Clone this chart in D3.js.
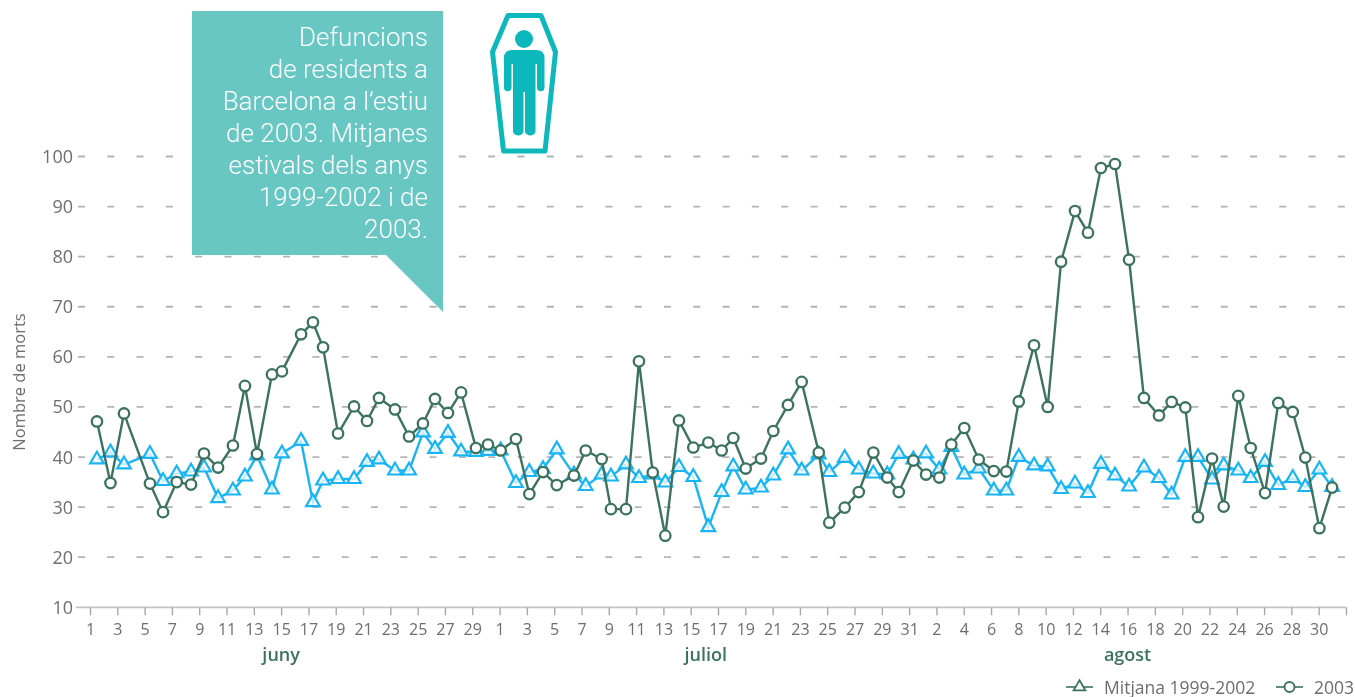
<!DOCTYPE html>
<html><head><meta charset="utf-8">
<script src="https://cdn.jsdelivr.net/npm/d3@7"></script>
<style>
html,body{margin:0;padding:0;background:#fff}
svg{display:block}
text{font-family:"Open Sans",sans-serif}
</style></head><body>
<svg id="c" width="1355" height="697"></svg>
<script>
const dayPos=[0.51,1.50,2.49,4.39,5.35,6.35,7.40,8.35,9.38,10.47,11.35,12.23,13.33,14.06,15.46,16.33,17.07,18.17,19.34,20.29,21.17,22.34,23.37,24.39,25.27,26.22,27.18,28.27,29.15,30.08,
31.20,32.18,33.18,34.19,35.45,36.31,37.48,38.16,39.26,40.21,41.22,42.14,43.14,44.19,45.29,46.27,47.12,48.03,49.15,50.05,51.13,52.13,53.38,54.15,55.28,56.31,57.38,58.40,59.24,
60.31,61.24,62.21,63.09,64.04,65.10,66.20,67.12,68.03,69.15,70.15,
71.13,72.15,73.10,74.05,75.08,76.11,
77.20,78.30,79.23,80.23,81.16,82.19,83.04,84.11,85.02,86.07,87.04,88.10,89.02,90.05,90.98];
const deaths2003=[47.1,34.8,48.7,34.7,29,35,34.5,40.7,37.9,42.3,54.2,40.6,56.5,57.1,64.5,66.9,61.9,44.7,50.1,47.2,51.8,49.5,44.1,46.7,51.6,48.8,52.9,41.8,42.5,41.3,
43.6,32.6,37,34.4,36.3,41.3,39.6,29.6,29.6,59.1,36.9,24.3,47.3,41.9,42.9,41.3,43.8,37.7,39.7,45.2,50.4,55,40.9,26.9,29.9,33,40.9,35.9,33,
39.3,36.5,35.9,42.5,45.8,39.5,37.2,37.1,51.1,62.3,50,
79,89.1,84.8,97.7,98.5,79.4,
51.8,48.3,51,49.9,28,39.7,30.1,52.2,41.8,32.8,50.8,49,39.9,25.8,33.9];
const mean9902=[39.5,40.9,38.5,40.6,35.2,36.7,37.1,37.9,31.8,33.3,36.1,40.3,33.5,40.7,43.2,31,35.3,35.6,35.6,39,39.5,37.3,37.3,44.9,41.6,44.8,41.1,41,41.2,41.3,
34.8,37,37.6,41.5,36.5,34.2,36.5,36.1,38.5,35.8,36.5,34.9,38,36,26,33,38.1,33.5,33.9,36.3,41.5,37.3,40.5,37,39.8,37.5,36.7,36.5,40.6,
39.5,40.7,37.5,42,36.5,37.7,33.3,33.3,40,38.3,38.1,
33.6,34.7,32.8,38.6,36.3,34.1,
37.9,35.8,32.5,40,40,35.5,38.3,37.3,35.8,39,34.4,35.8,34,37.5,34];
const yTicks=[10,20,30,40,50,60,70,80,90,100];
const dayLabels=[1,3,5,7,9,11,13,15,17,19,21,23,25,27,29,1,3,5,7,9,11,13,15,17,19,21,23,25,27,29,31,2,4,6,8,10,12,14,16,18,20,22,24,26,28,30];
const months=["juny","juliol","agost"];
const monthCentres=[14.0,45.1,76.0];
const calloutLines=["Defuncions","de residents a","Barcelona a l’estiu","de 2003. Mitjanes","estivals dels anys","1999-2002 i de","2003."];
const legendLabels=["Mitjana 1999-2002","2003"];

const DARK="#3c7260",BLUE="#18b4f4",GREY="#6e6e6e";
const svg=d3.select("#c");
const x=d3.scaleLinear().domain([0,92]).range([90,1346]);
const y=d3.scaleLinear().domain([10,100]).range([607.3,156.5]);

const chart=svg.append("g").style("filter","blur(0.55px)");

chart.append("g").selectAll("line").data(yTicks.slice(1)).join("line")
 .attr("x1",78).attr("x2",1352).attr("y1",d=>y(d)).attr("y2",d=>y(d))
 .attr("stroke","#b4b4b4").attr("stroke-width",1.8).attr("stroke-dasharray","7 22.3");

chart.append("g").selectAll("text").data(yTicks).join("text")
 .attr("x",73).attr("y",d=>y(d)+6.5).attr("text-anchor","end")
 .attr("font-size",18).attr("fill",GREY).text(d=>d);

const tickVals=d3.range(0,93,2);
const axis=d3.axisBottom(x).tickValues(tickVals).tickSize(8).tickPadding(8)
 .tickFormat((d,i)=>dayLabels[i]===undefined?"":dayLabels[i]);
const ax=chart.append("g").attr("transform","translate(0,607.3)").call(axis);
ax.select(".domain").attr("d","M76,0H1346").attr("stroke","#c4c4c4").attr("stroke-width",1.8);
ax.selectAll(".tick line").attr("stroke","#a8a8a8").attr("stroke-width",1.4);
ax.selectAll(".tick text").attr("font-family",'"Open Sans",sans-serif').attr("font-size",16).attr("fill",GREY);

chart.append("text").attr("transform","translate(25,382) rotate(-90)").attr("text-anchor","middle")
 .attr("font-size",16.5).attr("fill",GREY).text("Nombre de morts");

chart.append("g").selectAll("text").data(months).join("text")
 .attr("x",(d,i)=>x(monthCentres[i])).attr("y",661).attr("text-anchor","middle")
 .attr("font-size",18).attr("font-weight",600).attr("fill",DARK).text(d=>d);

const line=d3.line().x((d,i)=>x(dayPos[i])).y(d=>y(d));
const tri=d3.symbol().type(d3.symbolTriangle).size(80);
chart.append("path").datum(mean9902).attr("d",line).attr("fill","none").attr("stroke",BLUE).attr("stroke-width",2.4);
chart.append("g").selectAll("path").data(mean9902).join("path")
 .attr("d",tri).attr("transform",(d,i)=>`translate(${x(dayPos[i])},${y(d)})`)
 .attr("fill","#fff").attr("fill-opacity",.75).attr("stroke",BLUE).attr("stroke-width",2.2);
chart.append("path").datum(deaths2003).attr("d",line).attr("fill","none").attr("stroke",DARK).attr("stroke-width",2.4);
chart.append("g").selectAll("circle").data(deaths2003).join("circle")
 .attr("cx",(d,i)=>x(dayPos[i])).attr("cy",d=>y(d)).attr("r",5.2)
 .attr("fill","#fff").attr("stroke",DARK).attr("stroke-width",2.3);

const lg=chart.append("g");
const legendX=[1066,1276];
legendLabels.forEach((t,i)=>{
  const g=lg.append("g").attr("transform",`translate(${legendX[i]},687)`);
  g.append("line").attr("x1",0).attr("x2",27).attr("stroke",DARK).attr("stroke-width",1.6);
  if(i===0) g.append("path").attr("d",tri.size(60)()).attr("transform","translate(13.5,0)").attr("fill","#fff").attr("stroke",DARK).attr("stroke-width",1.8);
  else g.append("circle").attr("cx",13.5).attr("r",5).attr("fill","#fff").attr("stroke",DARK).attr("stroke-width",2);
  g.append("text").attr("x",38).attr("y",6.5).attr("font-size",17.5).attr("fill",GREY).text(t);
});

svg.append("path").attr("d",d3.line()([[192,11],[443,11],[443,312],[386,255],[192,255]])+"Z").attr("fill","#68c7c3");
svg.append("g").selectAll("text").data(calloutLines).join("text")
 .attr("x",428).attr("y",(d,i)=>45.5+i*32).attr("text-anchor","end")
 .style("font-family","Roboto,sans-serif").attr("font-weight",300).attr("font-size",26).attr("fill","#fff").text(d=>d);

const TEAL="#0db8bc";
const icon=svg.append("g");
icon.append("path").attr("d","M508,15.5H541L555.5,52L545,151H503.5L492.5,52Z").attr("fill","none").attr("stroke",TEAL).attr("stroke-width",5).attr("stroke-linejoin","round");
icon.append("circle").attr("cx",524).attr("cy",39).attr("r",9).attr("fill",TEAL);
icon.append("path").attr("d","M512,50H536Q544.5,50 544.5,58V88A3.8,3.8 0 0 1 537,88V64H535.5V132A5.7,5.7 0 0 1 525,132V92H523.5V132A5.7,5.7 0 0 1 513,132V64H511.5V88A3.8,3.8 0 0 1 504,88V58Q504,50 512,50Z").attr("fill",TEAL);
</script>
</body></html>
